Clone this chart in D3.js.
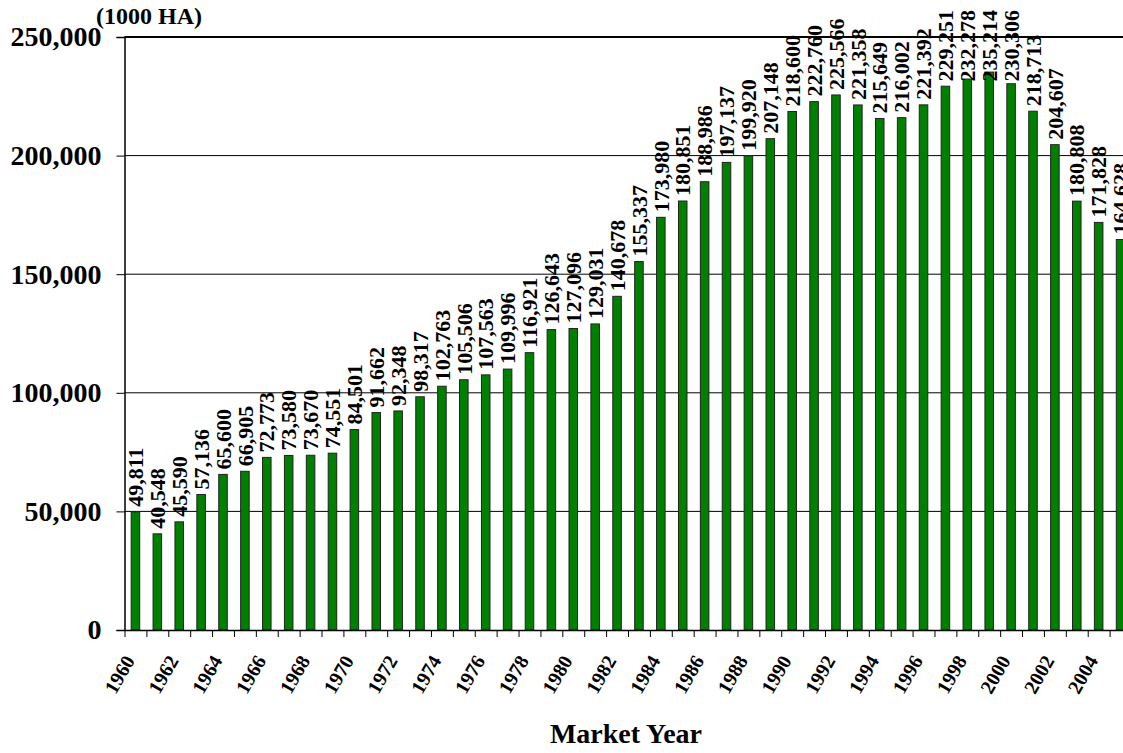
<!DOCTYPE html>
<html>
<head>
<meta charset="utf-8">
<script src="https://cdn.jsdelivr.net/npm/d3@7"></script>
<style>
  body { margin: 0; background: #fff; }
  text { font-family: "Liberation Serif", "Times New Roman", serif; font-weight: bold; fill: #000; }
  .axis path, .axis line { stroke: #000; }
</style>
</head>
<body>
<div id="chart"></div>
<script>
// harvested area by market year, 1000 ha
var years = d3.range(1960, 2006);
var areas = [
  49811, 40548, 45590, 57136, 65600, 66905, 72773, 73580, 73670, 74551,
  84501, 91662, 92348, 98317, 102763, 105506, 107563, 109996, 116921, 126643,
  127096, 129031, 140678, 155337, 173980, 180851, 188986, 197137, 199920, 207148,
  218600, 222760, 225566, 221358, 215649, 216002, 221392, 229251, 232278, 235214,
  230306, 218713, 204607, 180808, 171828, 164628
];
var yTicks = [0, 50000, 100000, 150000, 200000, 250000];
var yearLabels = years.filter(function(d) { return d % 2 === 0; });

(function() {
  var width = 1123, height = 753;
  var left = 124.5, right = 1131.5, top = 37, bottom = 630;
  var labelSize = 22;

  var svg = d3.select("#chart")
    .append("svg")
    .attr("width", width)
    .attr("height", height);

  var xPositionScale = d3.scaleBand()
    .domain(years)
    .range([left, right])
    .paddingInner(0.61)
    .paddingOuter(0.305);

  var xEdgeScale = d3.scaleLinear()
    .domain([0, years.length])
    .range([left, right]);

  var yPositionScale = d3.scaleLinear()
    .domain([0, 250000])
    .range([bottom, top]);

  // gridlines
  svg.append("g")
    .selectAll("line")
    .data(yTicks.slice(1))
    .enter().append("line")
    .attr("x1", left)
    .attr("x2", right)
    .attr("y1", function(d) { return yPositionScale(d); })
    .attr("y2", function(d) { return yPositionScale(d); })
    .attr("stroke", "#000")
    .attr("stroke-width", function(d) { return d === 250000 ? 2 : 1; });

  // bars
  svg.append("g")
    .selectAll("rect")
    .data(areas)
    .enter().append("rect")
    .attr("x", function(d, i) { return xPositionScale(years[i]); })
    .attr("width", xPositionScale.bandwidth())
    .attr("y", function(d) { return yPositionScale(d); })
    .attr("height", function(d) { return bottom - yPositionScale(d); })
    .attr("fill", "#008000")
    .attr("stroke", "#222")
    .attr("stroke-width", 1);

  // value labels, kept inside the picture at the top
  var fmt = d3.format(",");
  svg.append("g")
    .selectAll("text")
    .data(areas)
    .enter().append("text")
    .attr("transform", function(d, i) {
      var cx = xPositionScale(years[i]) + xPositionScale.bandwidth() / 2;
      var len = fmt(d).length * 0.5 * labelSize - 0.25 * labelSize;
      var base = Math.max(yPositionScale(d) - 5, 10 + len);
      return "translate(" + cx + "," + base + ") rotate(-90)";
    })
    .attr("dy", "0.35em")
    .style("font-size", labelSize + "px")
    .style("text-anchor", "start")
    .text(function(d) { return fmt(d); });

  // y axis
  var yAxis = d3.axisLeft(yPositionScale)
    .tickValues(yTicks)
    .tickSize(8)
    .tickPadding(15)
    .tickFormat(d3.format(","));
  var yg = svg.append("g")
    .attr("class", "axis y-axis")
    .attr("transform", "translate(" + left + ",0)")
    .call(yAxis);
  yg.selectAll("text").style("font-size", "28px");
  yg.select(".domain").attr("stroke-width", 1.5);

  // x axis: ticks on category edges
  var xEdgeAxis = d3.axisBottom(xEdgeScale)
    .tickValues(d3.range(0, years.length + 1))
    .tickSize(7)
    .tickSizeOuter(0)
    .tickFormat("");
  svg.append("g")
    .attr("class", "axis x-axis")
    .attr("transform", "translate(0," + bottom + ")")
    .call(xEdgeAxis)
    .select(".domain").attr("stroke-width", 1.5);

  // x axis labels, every other year
  var xAxis = d3.axisBottom(xPositionScale)
    .tickValues(yearLabels)
    .tickSize(0);
  var xg = svg.append("g")
    .attr("class", "axis x-labels")
    .attr("transform", "translate(0," + bottom + ")")
    .call(xAxis);
  xg.select(".domain").remove();
  xg.selectAll("text")
    .style("font-size", "20px")
    .style("text-anchor", "end")
    .attr("x", 0)
    .attr("y", 0)
    .attr("dy", "0.35em")
    .attr("transform", "translate(-6,27) rotate(-60)");

  // unit and axis title
  svg.append("text")
    .attr("x", 96)
    .attr("y", 24)
    .style("font-size", "24px")
    .text("(1000 HA)");

  svg.append("text")
    .attr("x", 626)
    .attr("y", 743)
    .style("font-size", "28px")
    .style("text-anchor", "middle")
    .text("Market Year");
})();
</script>
</body>
</html>
